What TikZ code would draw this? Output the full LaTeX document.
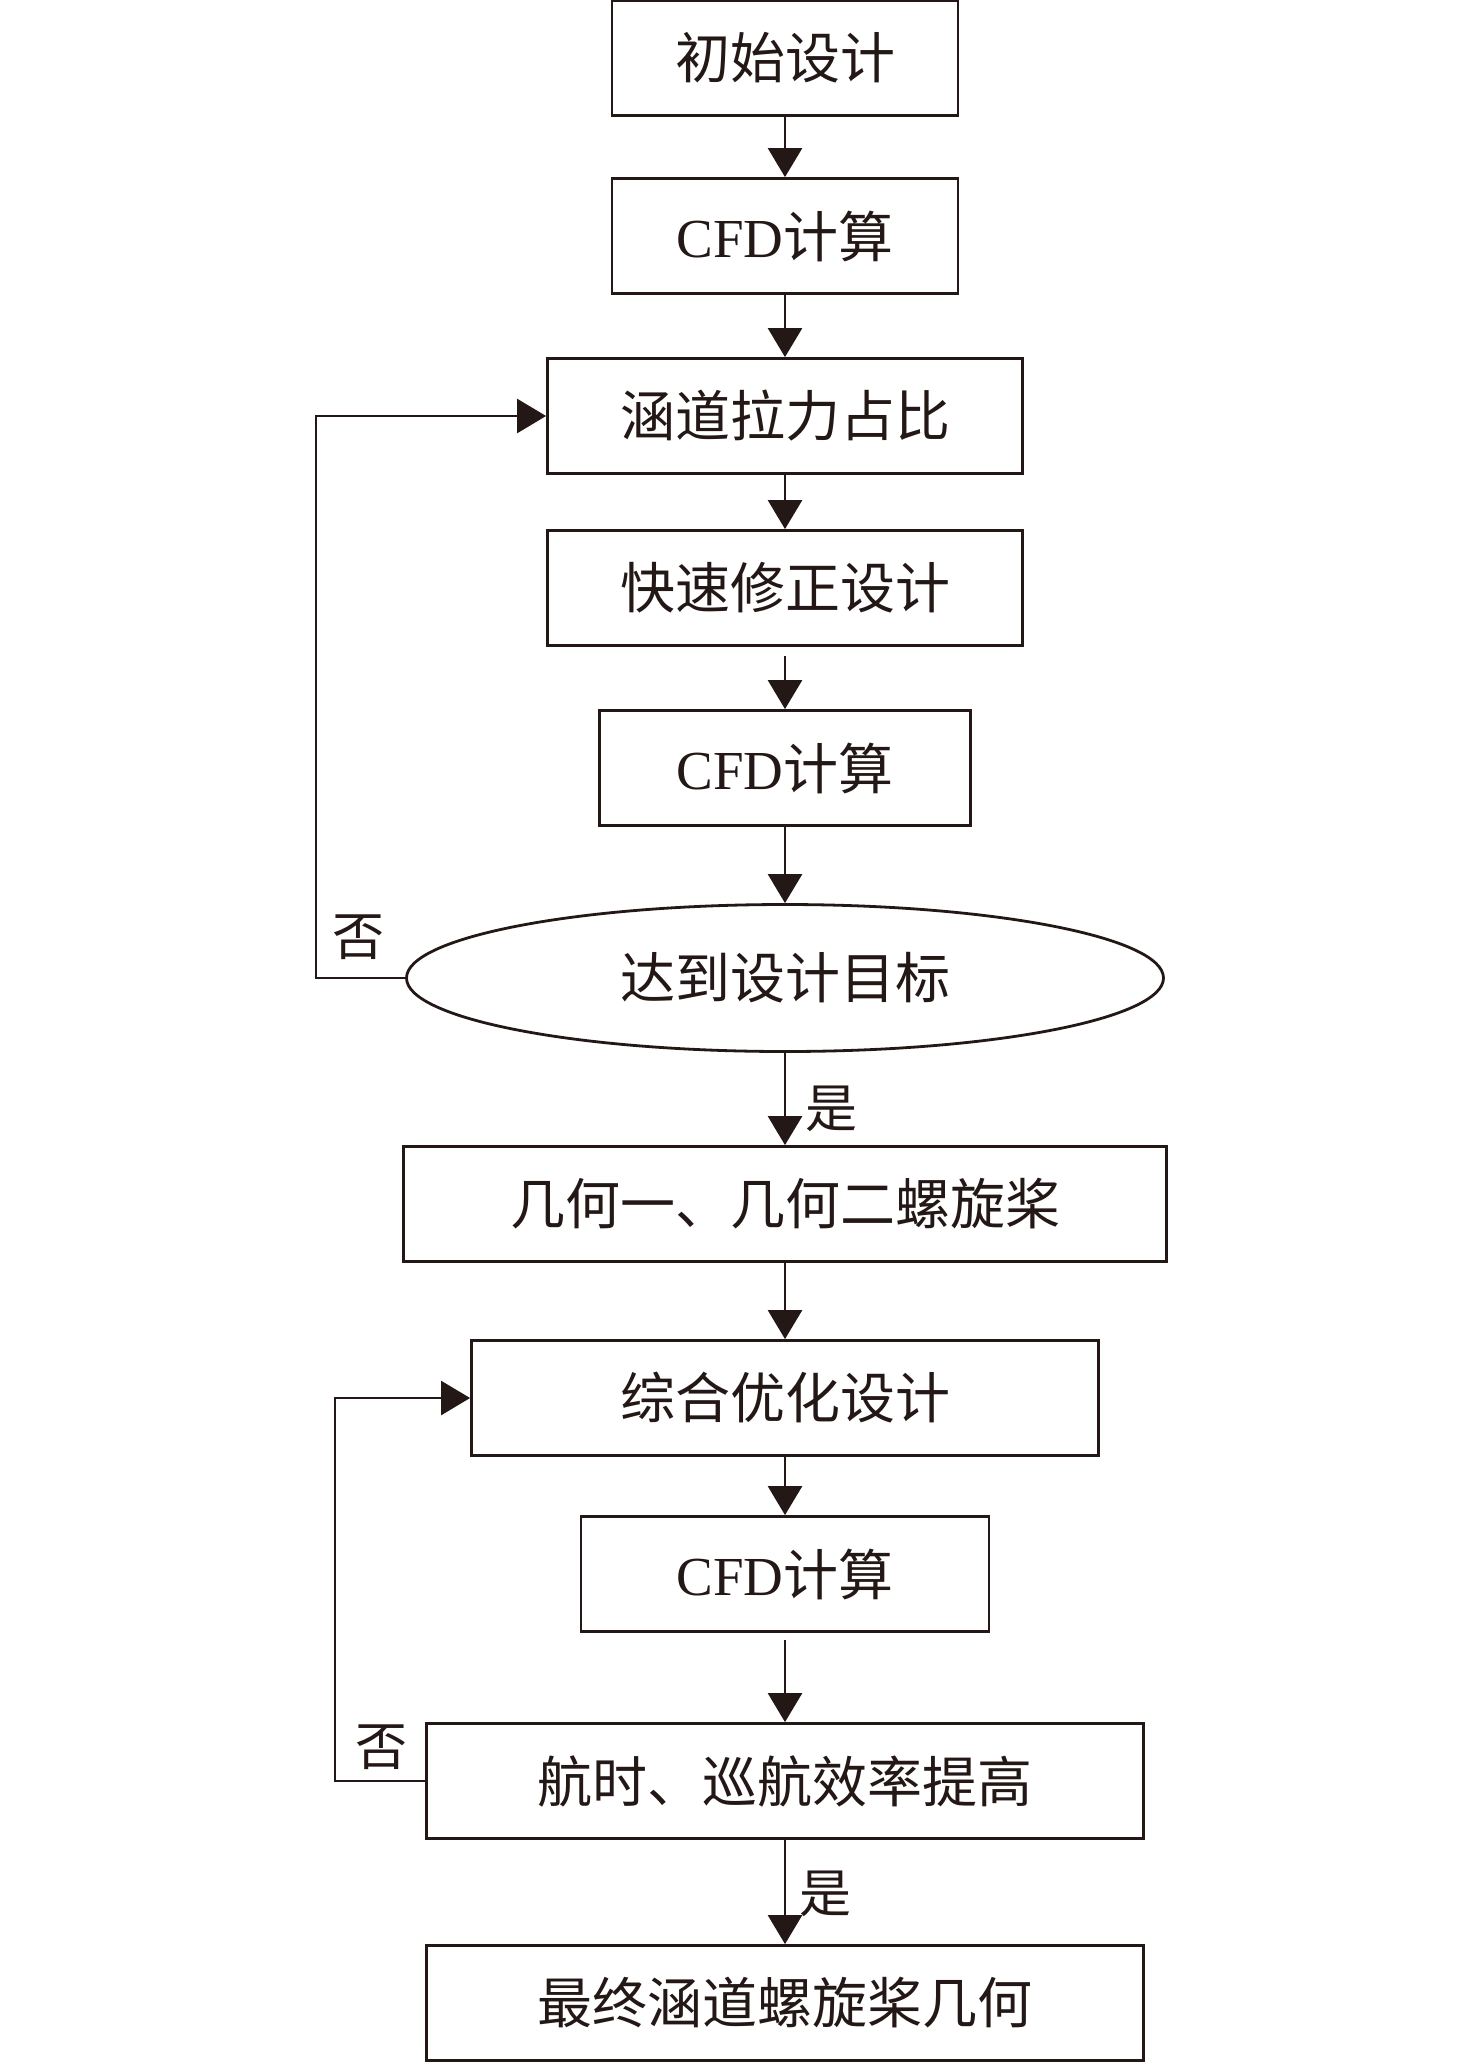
\documentclass[tikz,border=0pt]{standalone}
\usepackage{fontspec}
\setmainfont{Liberation Serif}
\newfontfamily\cjk{Noto Sans CJK SC}
\usetikzlibrary{shapes.geometric,arrows.meta}
\definecolor{ink}{RGB}{35,24,21}
\tikzset{
  flowbox/.style={draw=ink, line width=2.8pt, minimum height=115pt, inner sep=0pt, text=ink, font=\fontsize{55}{62}\selectfont\cjk},
  decide/.style={draw=ink, ellipse, line width=2.8pt, minimum width=757pt, minimum height=147pt, inner sep=0pt, text=ink, font=\fontsize{55}{62}\selectfont\cjk},
  conn/.style={draw=ink, line width=2.6pt, -{Triangle[length=29pt,width=34pt]}},
  lbl/.style={text=ink, inner sep=0pt, font=\fontsize{52}{60}\selectfont\cjk}
}
\begin{document}
\begin{tikzpicture}[x=1pt,y=-1pt]
\useasboundingbox (0,0) rectangle (1476,2062);
\node[flowbox, minimum width=346pt] (b1) at (785,58) {初始设计};
\node[flowbox, minimum width=346pt] (b2) at (785,236) {\rmfamily CFD{\cjk 计算}};
\node[flowbox, minimum width=475pt] (b3) at (785,416) {涵道拉力占比};
\node[flowbox, minimum width=475pt] (b4) at (785,588) {快速修正设计};
\node[flowbox, minimum width=371pt] (b5) at (785,768) {\rmfamily CFD{\cjk 计算}};
\node[decide] (e) at (785,978) {达到设计目标};
\node[flowbox, minimum width=763pt] (b7) at (785,1204) {几何一、几何二螺旋桨};
\node[flowbox, minimum width=627pt] (b8) at (785,1398) {综合优化设计};
\node[flowbox, minimum width=408pt] (b9) at (785,1574) {\rmfamily CFD{\cjk 计算}};
\node[flowbox, minimum width=717pt] (b10) at (785,1781) {航时、巡航效率提高};
\node[flowbox, minimum width=717pt] (b11) at (785,2003) {最终涵道螺旋桨几何};

\coordinate (l1) at (316,978);
\coordinate (l2) at (335,1781);

\draw[conn] (b1) -- (b2);
\draw[conn] (b2) -- (b3);
\draw[conn] (b3) -- (b4);
\draw[conn] ([yshift=-9pt]b4.south) -- (b5);
\draw[conn] (b5) -- (e);
\draw[conn] (e) -- (b7);
\draw[conn] (b7) -- (b8);
\draw[conn] (b8) -- (b9);
\draw[conn] ([yshift=-7pt]b9.south) -- (b10);
\draw[conn] (b10) -- (b11);
\draw[conn] (e.west) -- (l1) |- (b3.west);
\draw[conn] (b10.west) -- (l2) |- (b8.west);

\node[lbl] (no1) at (358,937) {否};
\node[lbl] (no2) at (381,1747) {否};
\node[lbl] (yes1) at (831,1109) {是};
\node[lbl] (yes2) at (825,1894) {是};
\end{tikzpicture}
\end{document}
